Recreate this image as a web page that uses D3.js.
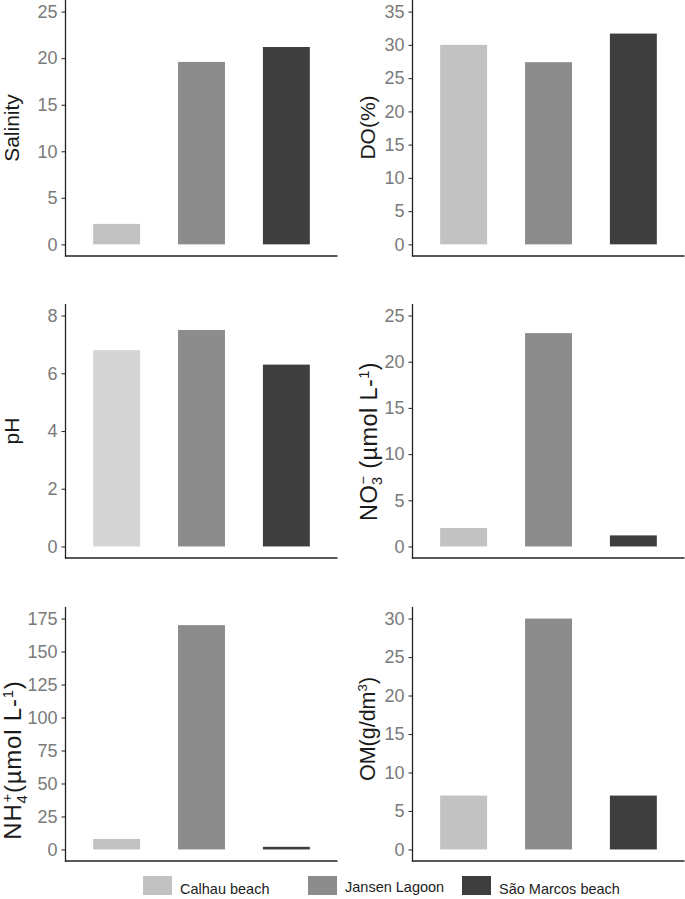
<!DOCTYPE html>
<html><head><meta charset="utf-8">
<script src="https://cdn.jsdelivr.net/npm/d3@7"></script>
<style>body{margin:0;background:#fff}svg{display:block}</style>
</head><body><svg id="c" width="685" height="899"></svg>
<script>
const sites = ["Calhau beach", "Jansen Lagoon", "São Marcos beach"];
const salinity = [2.2, 19.6, 21.2];
const dissolvedOxygen = [30, 27.4, 31.7];
const ph = [6.8, 7.5, 6.3];
const nitrate = [2.0, 23.1, 1.2];
const ammonium = [8, 170, 2];
const organicMatter = [7, 30, 7];
const salinityTicks = [0, 5, 10, 15, 20, 25];
const doTicks = [0, 5, 10, 15, 20, 25, 30, 35];
const phTicks = [0, 2, 4, 6, 8];
const nitrateTicks = [0, 5, 10, 15, 20, 25];
const ammoniumTicks = [0, 25, 50, 75, 100, 125, 150, 175];
const omTicks = [0, 5, 10, 15, 20, 25, 30];

const colors = ["#c2c2c2", "#8c8c8c", "#3e3e3e"];
const FONT = "'Liberation Sans', Arial, Helvetica, sans-serif";
const svg = d3.select("#c").style("font-family", FONT);

const colX = [65.5, 412.5];
const plotW = 272;
const rows = [[0, 256], [304, 558], [607, 861]];
const titleX = [19, 375];

const panels = [
  {v: salinity, ticks: salinityTicks, col: 0, row: 0, title: "sal", cy: 128, fs: 21},
  {v: dissolvedOxygen, ticks: doTicks, col: 1, row: 0, title: "do", cy: 127.5, fs: 21},
  {v: ph, ticks: phTicks, col: 0, row: 1, title: "ph", cy: 431, fs: 21, first: "#d5d5d5"},
  {v: nitrate, ticks: nitrateTicks, col: 1, row: 1, title: "no3", cy: 441.5, fs: 23.5, ls: 0.4},
  {v: ammonium, ticks: ammoniumTicks, col: 0, row: 2, title: "nh4", cy: 760, fs: 24, ls: 0.8},
  {v: organicMatter, ticks: omTicks, col: 1, row: 2, title: "om", cy: 729, fs: 21.5}
];

function writeTitle(t, kind, FS) {
  const sm = FS * 0.62;
  const add = (txt, o) => {
    const s = t.append("tspan").text(txt);
    if (o) Object.entries(o).forEach(([k, v]) => s.attr(k, v));
    return s;
  };
  if (kind === "sal") add("Salinity");
  else if (kind === "do") add("DO(%)");
  else if (kind === "ph") add("pH");
  else if (kind === "om") {
    add("OM(g/dm");
    add("3", {"font-size": sm, dy: -FS * 0.38});
    add(")", {dy: FS * 0.38});
  } else {
    const base = kind === "no3" ? "NO" : "NH";
    const sub = kind === "no3" ? "3" : "4";
    const sup = kind === "no3" ? "−" : "+";
    add(base);
    add(sub, {"font-size": sm, dy: FS * 0.25});
    add(sup, {"font-size": sm, dx: -sm * 0.556, dy: -FS * 0.62});
    add(kind === "no3" ? " (µmol L-" : "(µmol L-", {dy: FS * 0.37});
    add("1", {"font-size": sm, dy: -FS * 0.3});
    add(")", {dy: FS * 0.3});
  }
}

panels.forEach(p => {
  const x0 = colX[p.col];
  const [top, bottom] = rows[p.row];
  const max = p.ticks[p.ticks.length - 1];
  const y = d3.scaleLinear().domain([-0.05 * max, 1.05 * max]).range([bottom, top]);
  const x = d3.scaleBand().domain(sites).range([x0, x0 + plotW])
    .paddingInner(0.447).paddingOuter(0.326);
  const g = svg.append("g");

  g.selectAll("rect.bar").data(sites).join("rect")
    .attr("class", "bar")
    .attr("x", d => x(d))
    .attr("width", x.bandwidth())
    .attr("y", (d, i) => y(p.v[i]))
    .attr("height", (d, i) => y(0) - y(p.v[i]))
    .attr("fill", (d, i) => (i === 0 && p.first) ? p.first : colors[i]);

  const ax = g.append("g").attr("transform", `translate(${x0},0)`)
    .call(d3.axisLeft(y).tickValues(p.ticks).tickSize(4).tickPadding(4).tickFormat(d3.format("d")));
  ax.select(".domain").remove();
  ax.selectAll(".tick line").attr("stroke", "#333").attr("stroke-width", 1.1);
  ax.selectAll(".tick text").attr("fill", "#7a7a7a").style("font-size", "18px").style("font-family", FONT);

  g.append("line").attr("x1", x0).attr("x2", x0).attr("y1", top).attr("y2", bottom + 0.6)
    .attr("stroke", "#222").attr("stroke-width", 1.3);
  g.append("line").attr("x1", x0 - 0.6).attr("x2", x0 + plotW).attr("y1", bottom).attr("y2", bottom)
    .attr("stroke", "#222").attr("stroke-width", 1.3);

  const t = g.append("text")
    .attr("transform", `translate(${titleX[p.col] + (p.fs > 22 ? 1.5 : 0)},${p.cy}) rotate(-90)`)
    .attr("text-anchor", "middle")
    .attr("fill", "#1a1a1a")
    .style("font-size", p.fs + "px");
  if (p.ls) t.attr("letter-spacing", p.ls);
  writeTitle(t, p.title, p.fs);
});

// legend
const legX = [143, 308, 462];
const leg = svg.append("g");
sites.forEach((s, i) => {
  leg.append("rect").attr("x", legX[i]).attr("y", 876).attr("width", 29).attr("height", 19)
    .attr("fill", colors[i]);
  leg.append("text").attr("x", legX[i] + 37).attr("y", i === 1 ? 892 : 894)
    .attr("fill", "#222").style("font-size", "14.5px").text(s);
});
</script></body></html>
